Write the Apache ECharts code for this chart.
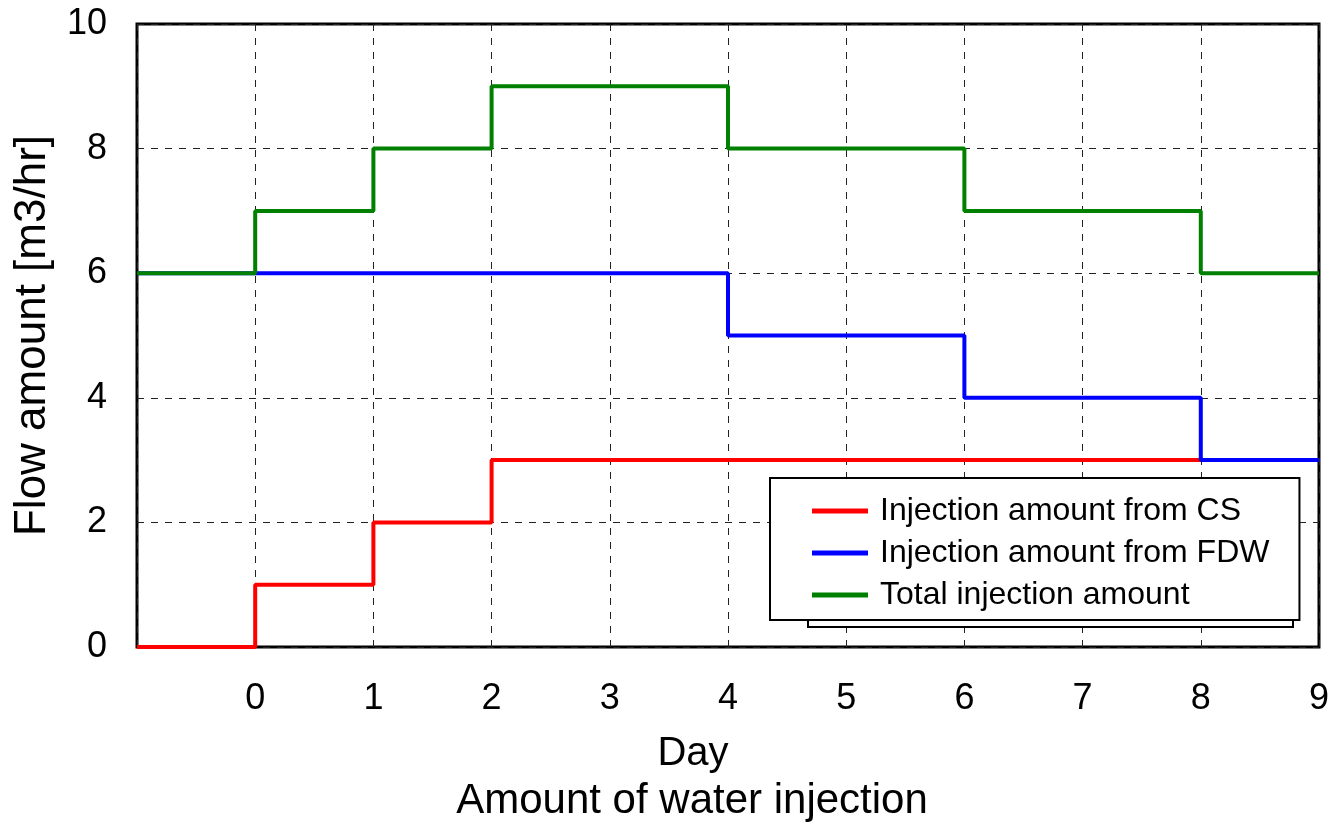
<!DOCTYPE html>
<html>
<head>
<meta charset="utf-8">
<script src="https://cdn.jsdelivr.net/npm/echarts@6/dist/echarts.min.js"></script>
<style>
  html, body { margin: 0; padding: 0; background: #fff; }
  #chart { width: 1332px; height: 822px; }
</style>
</head>
<body>
<div id="chart"></div>
<script>
const font = "'Liberation Sans', Arial, sans-serif";

// step points (day, flow); each value holds until the next day listed
const csDays = [-1, 0, 1, 2, 9];
const csValues = [0, 1, 2, 3, 3];
const fdwDays = [-1, 4, 6, 8, 9];
const fdwValues = [6, 5, 4, 3, 3];
const totalDays = [-1, 0, 1, 2, 4, 6, 8, 9];
const totalValues = [6, 7, 8, 9, 8, 7, 6, 6];

const seriesNames = [
  "Injection amount from CS",
  "Injection amount from FDW",
  "Total injection amount",
];
const colors = ["#ff0000", "#0000ff", "#008000"];

const pairs = (xs, ys) => xs.map((x, i) => [x, ys[i]]);
const seriesData = [
  pairs(csDays, csValues),
  pairs(fdwDays, fdwValues),
  pairs(totalDays, totalValues),
];

const gridLine = {
  show: true,
  lineStyle: { color: "#222", width: 1, type: [7, 7] },
};

const option = {
  animation: false,
  backgroundColor: "#fff",
  grid: {
    left: 137,
    top: 24,
    right: 12,
    bottom: 175,
    show: true,
    borderColor: "#000",
    borderWidth: 3,
    backgroundColor: "transparent",
  },
  xAxis: {
    type: "value",
    min: -1,
    max: 9,
    interval: 1,
    axisLine: { show: false },
    axisTick: { show: false },
    splitLine: gridLine,
    axisLabel: {
      margin: 34,
      fontSize: 36,
      color: "#000",
      fontFamily: font,
      formatter: (v) => (v < 0 ? "" : String(v)),
    },
  },
  yAxis: {
    type: "value",
    min: 0,
    max: 10,
    interval: 2,
    name: "Flow amount [m3/hr]",
    nameLocation: "middle",
    nameGap: 82,
    nameTextStyle: { fontSize: 44, color: "#000", fontFamily: font },
    axisLine: { show: false },
    axisTick: { show: false },
    splitLine: gridLine,
    axisLabel: {
      margin: 30,
      fontSize: 36,
      color: "#000",
      fontFamily: font,
    },
  },
  legend: {
    orient: "vertical",
    left: 770,
    top: 478,
    padding: [17, 30, 9, 42],
    itemGap: 10,
    itemWidth: 56,
    itemHeight: 5,
    icon: "rect",
    backgroundColor: "#fff",
    borderColor: "#000",
    borderWidth: 2,
    z: 10,
    textStyle: { fontSize: 32, color: "#000", fontFamily: font, padding: [0, 0, 0, 7] },
    data: seriesNames,
  },
  graphic: [
    {
      type: "rect",
      z: 5,
      shape: { x: 808, y: 490, width: 485, height: 137 },
      style: { fill: "#fff", stroke: "#000", lineWidth: 2 },
    },
    {
      type: "text",
      z: 5,
      style: {
        text: "Day",
        x: 693,
        y: 754,
        align: "center",
        verticalAlign: "middle",
        textAlign: "center",
        textVerticalAlign: "middle",
        font: "40px " + font,
        fill: "#000",
      },
    },
    {
      type: "text",
      z: 5,
      style: {
        text: "Amount of water injection",
        x: 692,
        y: 801,
        align: "center",
        verticalAlign: "middle",
        textAlign: "center",
        textVerticalAlign: "middle",
        font: "42px " + font,
        fill: "#000",
      },
    },
  ],
  series: seriesNames.map((name, i) => ({
    name,
    type: "line",
    step: "end",
    data: seriesData[i],
    showSymbol: false,
    symbol: "none",
    lineStyle: { color: colors[i], width: 4 },
    itemStyle: { color: colors[i] },
    z: 3,
  })),
};

const chart = echarts.init(document.getElementById("chart"));
chart.setOption(option);
</script>
</body>
</html>
